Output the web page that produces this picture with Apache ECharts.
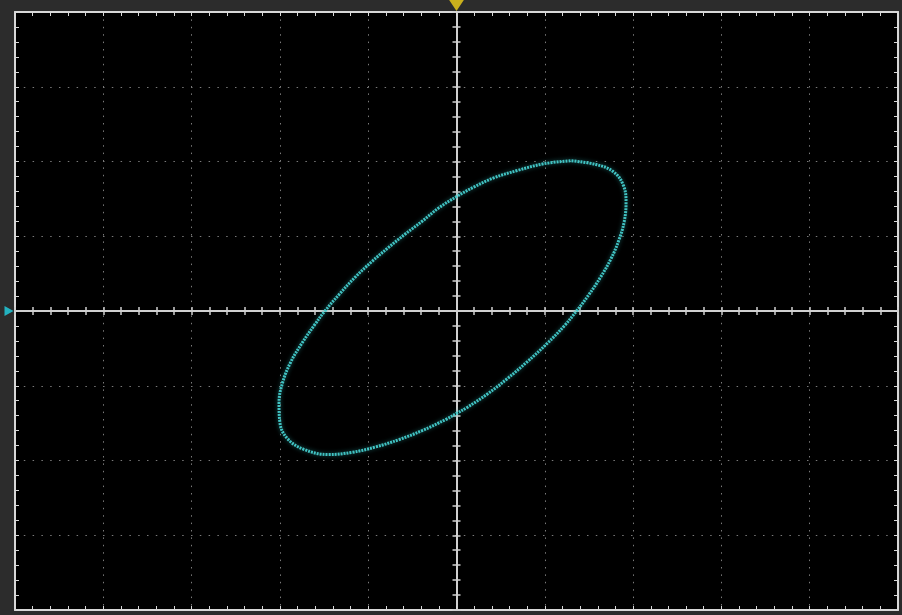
<!DOCTYPE html>
<html>
<head>
<meta charset="utf-8">
<script src="https://cdn.jsdelivr.net/npm/echarts@6/dist/echarts.min.js"></script>
<style>
html,body{margin:0;padding:0;background:#2c2c2c;}
#chart{width:902px;height:615px;}
</style>
</head>
<body>
<div id="chart"></div>
<script>
// XY-mode trace, in divisions
const traceX = [1.29, 0.99, 0.69, 0.42, 0.20, 0.00, -0.20, -0.39, -0.58, -0.77, -0.96, -1.15, -1.33, -1.49, -1.61, -1.75, -1.88, -1.97, -2.01, -2.00, -1.92, -1.73, -1.45, -1.18, -0.92, -0.65, -0.39, -0.12, 0.00, 0.12, 0.35, 0.57, 0.80, 1.03, 1.22, 1.36, 1.50, 1.63, 1.75, 1.84, 1.90, 1.92, 1.89, 1.78, 1.58, 1.29];
const traceY = [2.01, 1.97, 1.88, 1.78, 1.66, 1.53, 1.38, 1.20, 1.03, 0.85, 0.66, 0.45, 0.22, 0.00, -0.19, -0.43, -0.69, -0.96, -1.23, -1.49, -1.70, -1.85, -1.92, -1.89, -1.82, -1.72, -1.60, -1.45, -1.37, -1.29, -1.11, -0.91, -0.68, -0.43, -0.20, 0.00, 0.22, 0.45, 0.70, 0.95, 1.20, 1.45, 1.68, 1.86, 1.96, 2.01];
const xDivisions = [-5, 5];
const yDivisions = [-4, 4];
const ch1Marker = [[0, 4]];
const ch2Marker = [[-5, 0]];

const trace = traceX.map((x, i) => [x, traceY[i]]);

const frameColor = '#d8d8d8';
const axisColor = '#d0d0d0';

function frameX(pos, split) {
  return {
    type: 'value', min: xDivisions[0], max: xDivisions[1], interval: 1, position: pos,
    axisLine: { show: true, onZero: false, lineStyle: { color: frameColor, width: 2 } },
    axisTick: { show: true, inside: true, length: 4, lineStyle: { color: frameColor } },
    minorTick: { show: true, splitNumber: 5, length: 4, lineStyle: { color: frameColor } },
    axisLabel: { show: false },
    splitLine: { show: split, lineStyle: { color: '#7a7a7a', width: 1, type: [1.5, 5.9] } }
  };
}
function frameY(pos, split) {
  return {
    type: 'value', min: yDivisions[0], max: yDivisions[1], interval: 1, position: pos,
    axisLine: { show: true, onZero: false, lineStyle: { color: frameColor, width: 2 } },
    axisTick: { show: true, inside: true, length: 4, lineStyle: { color: frameColor } },
    minorTick: { show: true, splitNumber: 5, length: 4, lineStyle: { color: frameColor } },
    axisLabel: { show: false },
    splitLine: { show: split, lineStyle: { color: '#7a7a7a', width: 1, type: [1.5, 7.3] } }
  };
}
function centerX(pos) {
  return {
    type: 'value', min: xDivisions[0], max: xDivisions[1], interval: 1, position: pos,
    axisLine: { show: true, onZero: true, onZeroAxisIndex: 0, lineStyle: { color: axisColor, width: 2 } },
    axisTick: { show: true, inside: true, length: 4, lineStyle: { color: axisColor, width: 1.5 } },
    minorTick: { show: true, splitNumber: 5, length: 4, lineStyle: { color: axisColor, width: 1.5 } },
    axisLabel: { show: false }, splitLine: { show: false }
  };
}
function centerY(pos) {
  return {
    type: 'value', min: yDivisions[0], max: yDivisions[1], interval: 1, position: pos,
    axisLine: { show: true, onZero: true, onZeroAxisIndex: 0, lineStyle: { color: axisColor, width: 2 } },
    axisTick: { show: true, inside: true, length: 4, lineStyle: { color: axisColor, width: 1.5 } },
    minorTick: { show: true, splitNumber: 5, length: 4, lineStyle: { color: axisColor, width: 1.5 } },
    axisLabel: { show: false }, splitLine: { show: false }
  };
}

const chart = echarts.init(document.getElementById('chart'), null, { renderer: 'canvas' });
chart.setOption({
  backgroundColor: '#2c2c2c',
  animation: false,
  grid: { left: 15, right: 4, top: 12, bottom: 5, show: true, backgroundColor: '#000', borderWidth: 0 },
  xAxis: [frameX('bottom', true), frameX('top', false), centerX('bottom'), centerX('top')],
  yAxis: [frameY('left', true), frameY('right', false), centerY('left'), centerY('right')],
  series: [
    {
      type: 'line', xAxisIndex: 0, yAxisIndex: 0,
      data: trace, smooth: 0.4, showSymbol: false, symbol: 'none',
      lineStyle: { color: '#45cccc', width: 3, type: [2, 1], opacity: 0.95,
                   shadowBlur: 4, shadowColor: 'rgba(40,150,150,0.7)' },
      z: 5
    },
    {
      type: 'scatter', xAxisIndex: 0, yAxisIndex: 0, data: ch1Marker,
      symbol: 'triangle', symbolRotate: 180, symbolSize: [16, 12], symbolOffset: [0, -7],
      itemStyle: { color: '#f2d21a' }, clip: false, z: 10, silent: true
    },
    {
      type: 'scatter', xAxisIndex: 0, yAxisIndex: 0, data: ch2Marker,
      symbol: 'triangle', symbolRotate: -90, symbolSize: [10, 9], symbolOffset: [-6, 0],
      itemStyle: { color: '#22d4e6' }, clip: false, z: 10, silent: true
    }
  ]
});
</script>
</body>
</html>
